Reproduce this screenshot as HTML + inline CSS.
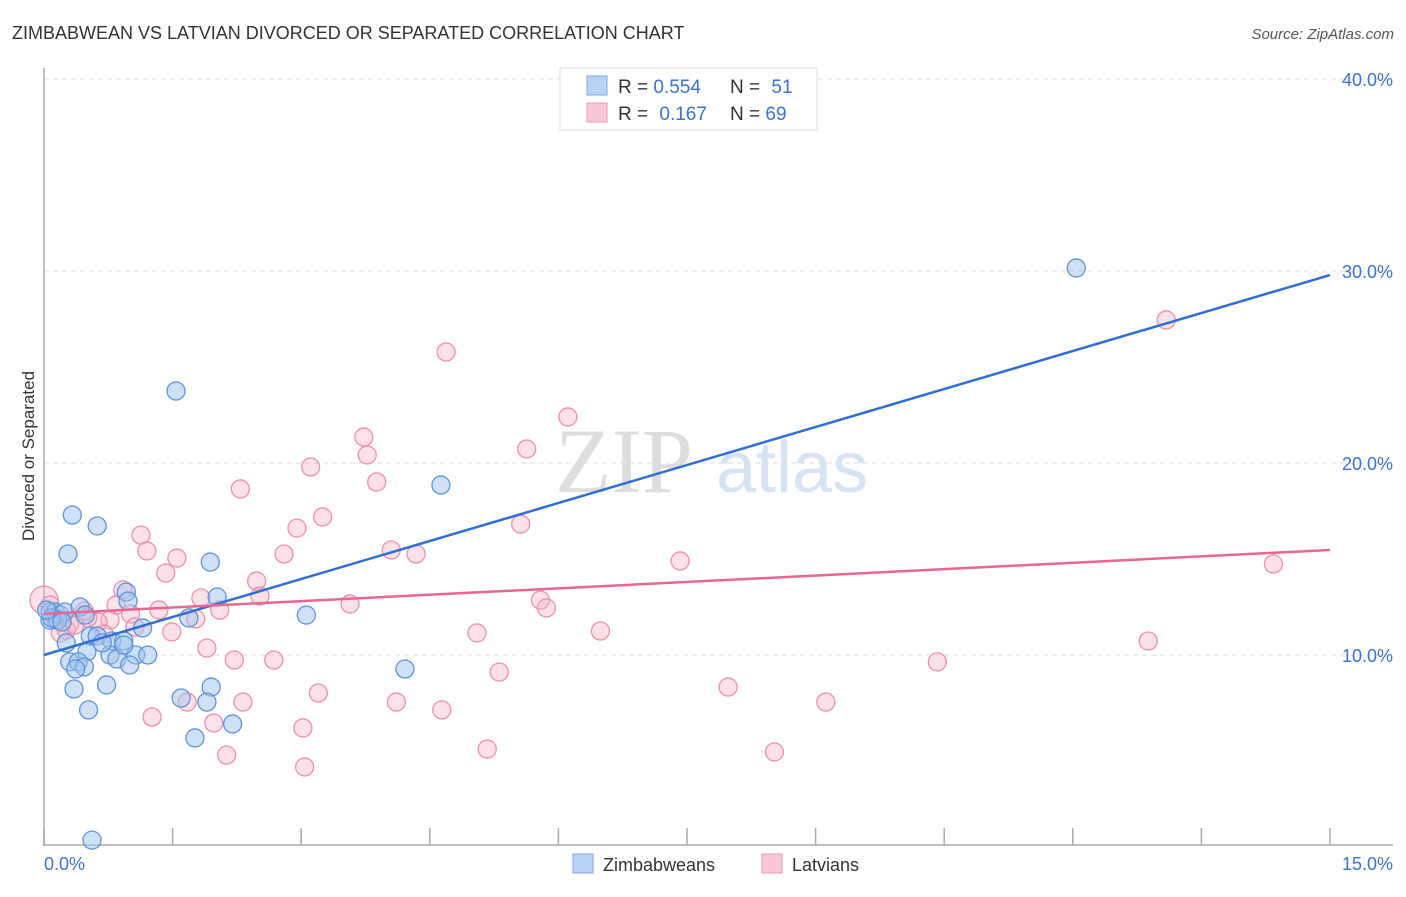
<!DOCTYPE html>
<html><head><meta charset="utf-8"><style>
body{margin:0;background:#fff;width:1406px;height:892px;overflow:hidden;font-family:"Liberation Sans",sans-serif}
</style></head><body>
<svg width="1406" height="892" xmlns="http://www.w3.org/2000/svg">
<text x="12" y="39" font-size="18" fill="#333">ZIMBABWEAN VS LATVIAN DIVORCED OR SEPARATED CORRELATION CHART</text>
<text x="1394" y="39" font-size="15" fill="#555" font-style="italic" text-anchor="end">Source: ZipAtlas.com</text>
<g>
<text x="555" y="492" font-size="92" font-family="Liberation Serif,serif" fill="#ddd">ZIP</text>
<text x="716" y="492" font-size="72" fill="#d6e3f5">atlas</text>
</g>
<g id="grid"></g>
<line x1="44" y1="68" x2="44" y2="846" stroke="#aaa" stroke-width="1.5"/>
<line x1="44" y1="845" x2="1393" y2="845" stroke="#aaa" stroke-width="1.5"/>
<g id="xticks"></g>
<g id="ylabels"></g>
<text x="44" y="870" font-size="18" fill="#3a72d4">0.0%</text>
<text x="1393" y="870" font-size="18" fill="#3a72d4" text-anchor="end">15.0%</text>
<text transform="translate(34,456) rotate(-90)" font-size="17" fill="#333" text-anchor="middle">Divorced or Separated</text>
<g id="pink"></g>
<g id="blue"></g>
<g id="trends"></g>
<g>
<rect x="560" y="68" width="257" height="62" fill="#fff" stroke="#ddd"/>
<rect x="587" y="76" width="20" height="19" fill="#b8d3f5" stroke="#7aa7e3"/>
<rect x="587" y="103" width="20" height="19" fill="#f8c8d6" stroke="#f09ab4"/>
<text x="618" y="93" font-size="19" fill="#333">R = <tspan fill="#3a72d4">0.554</tspan></text>
<text x="730" y="93" font-size="19" fill="#333">N = <tspan fill="#3a72d4" dx="6">51</tspan></text>
<text x="618" y="120" font-size="19" fill="#333">R = <tspan fill="#3a72d4" dx="6">0.167</tspan></text>
<text x="730" y="120" font-size="19" fill="#333">N = <tspan fill="#3a72d4">69</tspan></text>
</g>
<g>
<rect x="573" y="854" width="20" height="19" fill="#b8d3f5" stroke="#7aa7e3"/>
<text x="603" y="871" font-size="18" fill="#333">Zimbabweans</text>
<rect x="762" y="854" width="20" height="19" fill="#f8c8d6" stroke="#f09ab4"/>
<text x="792" y="871" font-size="18" fill="#333">Latvians</text>
</g>
</svg>
<script>
const yTicks=[10,20,30,40];
const yTickLabels=["10.0%","20.0%","30.0%","40.0%"];
const xTickVals=[0,1.5,3,4.5,6,7.5,9,10.5,12,13.5,15];
const blueX=[12.04,1.54,4.63,0.33,0.62,0.28,1.94,0.96,2.02,0.98,3.06,1.69,1.15,0.54,0.62,0.79,0.93,0.26,0.50,0.77,1.07,1.21,0.85,0.30,0.40,0.47,1.00,4.21,0.37,0.73,1.95,1.60,1.90,0.35,0.52,2.20,1.76,0.56,0.07,0.13,0.19,0.24,0.07,0.16,0.42,0.09,0.03,0.21,0.48,0.93,0.68];
const blueY=[30.16,23.75,18.85,17.29,16.72,15.26,14.84,13.28,13.02,12.81,12.08,11.93,11.41,10.99,10.99,10.73,10.73,10.63,10.16,10.00,10.00,10.00,9.79,9.64,9.64,9.38,9.48,9.27,9.27,8.44,8.33,7.76,7.55,8.23,7.14,6.41,5.68,0.36,12.24,12.24,12.08,12.24,11.82,11.82,12.50,11.93,12.34,11.72,12.08,10.52,10.63];
const pinkX=[13.09,4.69,6.11,3.73,5.63,3.77,3.11,3.88,2.29,3.25,5.56,2.95,1.13,1.20,4.05,1.55,4.34,2.80,7.42,14.34,1.42,2.48,0.92,2.52,1.83,3.57,0.84,5.79,5.86,1.34,0.47,2.05,1.77,0.77,1.01,0.63,1.06,0.30,1.49,5.05,6.49,0.70,0.19,12.88,1.90,2.22,2.68,10.42,5.31,3.20,7.98,1.67,2.32,9.12,4.11,4.64,1.26,1.98,3.02,2.13,5.17,8.52,3.04,0.00,0.07,0.14,0.26,0.51,0.36];
const pinkY=[27.45,25.78,22.40,21.35,20.73,20.42,19.79,19.01,18.65,17.19,16.82,16.61,16.25,15.42,15.47,15.05,15.26,15.26,14.90,14.74,14.27,13.85,13.39,13.07,12.97,12.66,12.60,12.86,12.45,12.34,12.29,12.34,11.88,11.82,12.14,11.72,11.46,11.61,11.20,11.15,11.25,11.09,11.15,10.73,10.36,9.74,9.74,9.64,9.11,8.02,8.33,7.55,7.55,7.55,7.55,7.14,6.77,6.46,6.20,4.79,5.10,4.95,4.17,12.86,12.60,11.82,11.30,11.93,11.56];
const blueTrend=[10.0,29.79];
const pinkTrend=[12.14,15.47];
const NS="http://www.w3.org/2000/svg";
const sx=v=>44+v*(1286/15);
const sy=v=>847-v*19.2;
function mk(tag,attrs,parent){const e=document.createElementNS(NS,tag);for(const k in attrs)e.setAttribute(k,attrs[k]);parent.appendChild(e);return e;}
const grid=document.getElementById('grid'),yl=document.getElementById('ylabels'),xt=document.getElementById('xticks');
yTicks.forEach((t,i)=>{
 const l=mk('line',{x1:44,x2:1393,y1:sy(t),y2:sy(t),stroke:'#ddd','stroke-dasharray':'5,4'},grid);
 
 
 const tx=mk('text',{x:1393,y:sy(t)+7,'font-size':18,fill:'#3a72d4','text-anchor':'end'},yl);
 tx.textContent=yTickLabels[i];
 
 
});
xTickVals.forEach(v=>{
 const l=mk('line',{x1:sx(v),x2:sx(v),y1:828,y2:845,stroke:'#aaa','stroke-width':1.5},xt);
 
 
});
function pts(X,Y,g,fill,stroke,name){
 X.forEach((x,i)=>{
  const c=mk('circle',{cx:sx(x),cy:sy(Y[i]),r:i>=63&&name==='latvian-point'&&i===63?14:9,fill:fill,stroke:stroke,'stroke-width':1.3},g);
  
  
 });
}
pts(pinkX,pinkY,document.getElementById('pink'),'rgba(248,180,200,0.4)','#ee8eaa','latvian-point');
pts(blueX,blueY,document.getElementById('blue'),'rgba(160,196,240,0.5)','#5b93dd','zimbabwean-point');
const tr=document.getElementById('trends');
const bl=mk('line',{x1:sx(0),y1:sy(blueTrend[0]),x2:sx(15),y2:sy(blueTrend[1]),stroke:'#2f6fd6','stroke-width':2.5},tr);


const pl=mk('line',{x1:sx(0),y1:sy(pinkTrend[0]),x2:sx(15),y2:sy(pinkTrend[1]),stroke:'#e8668f','stroke-width':2.5},tr);


</script>
</body></html>
